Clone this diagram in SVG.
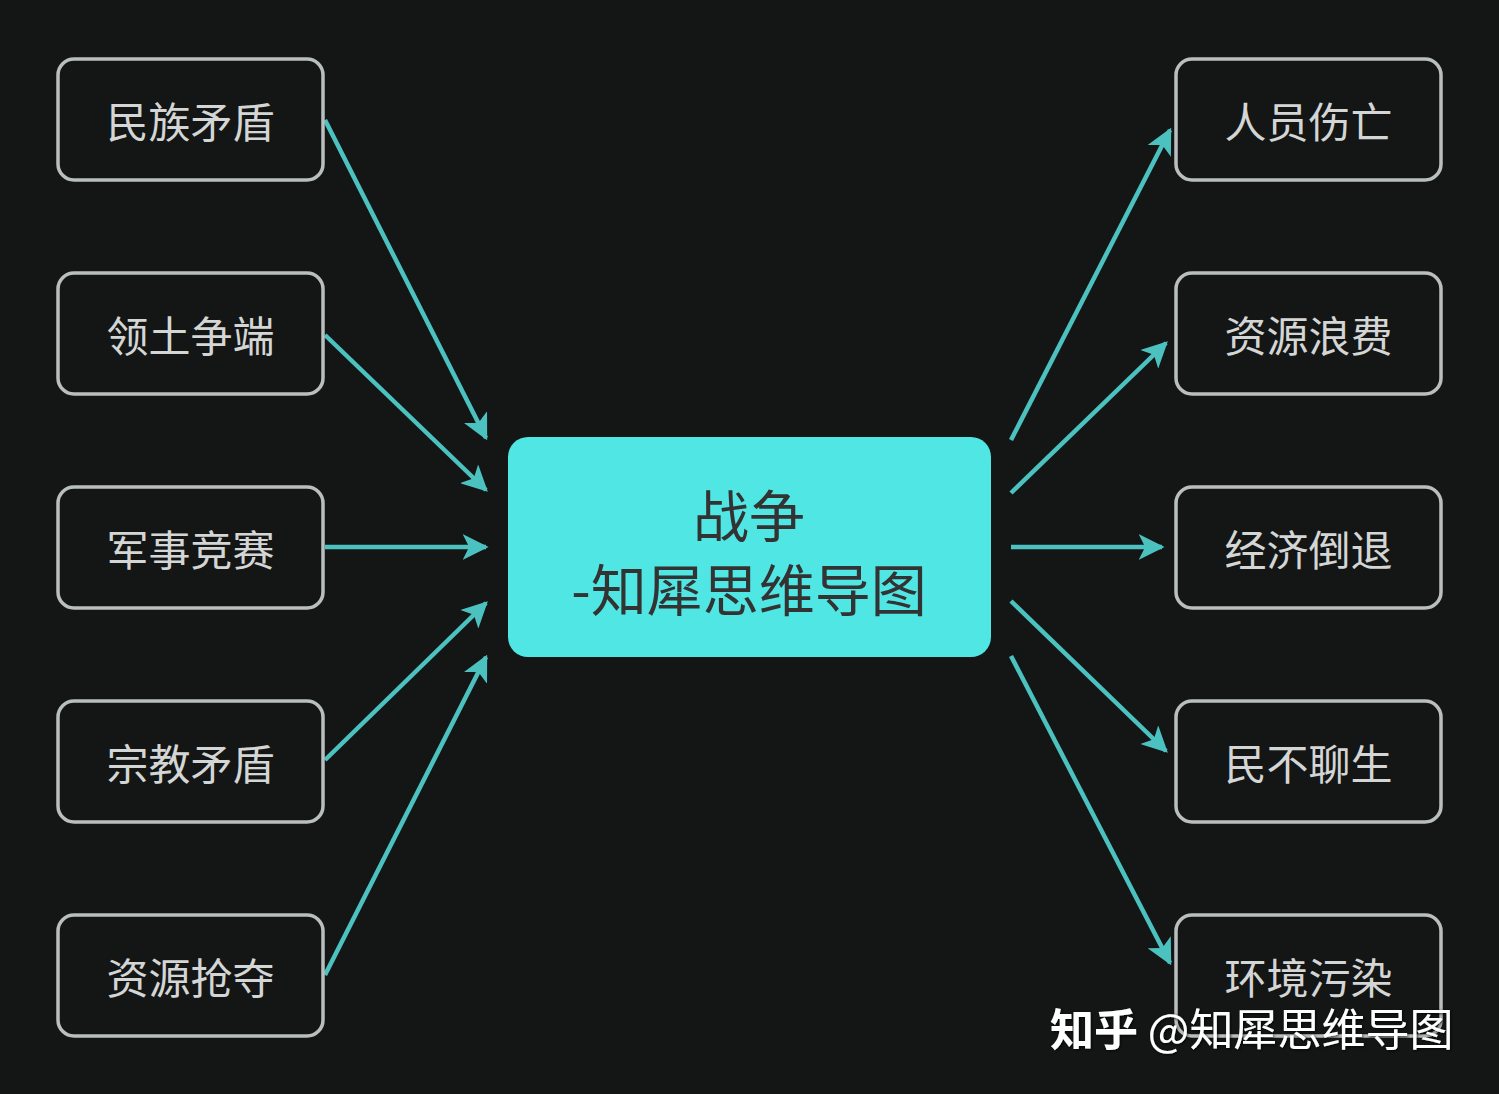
<svg xmlns="http://www.w3.org/2000/svg" width="1499" height="1094" viewBox="0 0 1499 1094">
<style>
.node rect{fill:#141616;stroke:#b9bebe;stroke-width:3.5}
.node text{font-family:"Noto Sans CJK SC","Noto Sans",sans-serif;font-size:42px;fill:#d4d6d6;text-anchor:middle;dominant-baseline:central}
.center rect{fill:#50e6e4}
.center text{font-family:"Noto Sans CJK SC","Noto Sans",sans-serif;font-size:56px;fill:#333333;text-anchor:middle;dominant-baseline:central}
.conn line{stroke:#4cc2c0;stroke-width:4.5;fill:none}
.wm{font-family:"Noto Sans CJK SC",sans-serif;font-size:44px;fill:#ffffff}
</style>
<defs>
<marker id="arr" markerUnits="userSpaceOnUse" markerWidth="26" markerHeight="26" viewBox="0 0 10 10" refX="9" refY="5" orient="auto">
<path d="M0,0 L10,5 L0,10 L2.5,5 z" fill="#4cc2c0"/>
</marker>
<filter id="sh" x="-10%" y="-20%" width="120%" height="140%">
<feDropShadow dx="1" dy="1" stdDeviation="1.5" flood-color="#000" flood-opacity="0.8"/>
</filter>
</defs>
<rect width="1499" height="1094" fill="#141616"/>
<g class="conn">
<line x1="325" y1="120" x2="486" y2="438" marker-end="url(#arr)"/>
<line x1="325" y1="335" x2="486" y2="490" marker-end="url(#arr)"/>
<line x1="325" y1="547" x2="486" y2="547" marker-end="url(#arr)"/>
<line x1="325" y1="760" x2="486" y2="603" marker-end="url(#arr)"/>
<line x1="325" y1="975" x2="486" y2="657" marker-end="url(#arr)"/>
<line x1="1011" y1="440" x2="1170" y2="130" marker-end="url(#arr)"/>
<line x1="1011" y1="493" x2="1166" y2="343" marker-end="url(#arr)"/>
<line x1="1011" y1="547" x2="1162" y2="547" marker-end="url(#arr)"/>
<line x1="1011" y1="601" x2="1166" y2="751" marker-end="url(#arr)"/>
<line x1="1011" y1="656" x2="1170" y2="963" marker-end="url(#arr)"/>
</g>
<g id="center" class="center">
<rect x="508" y="437" width="483" height="220" rx="20"/>
<text x="749" y="512">战争</text>
<text x="749" y="586">-知犀思维导图</text>
</g>
<g id="n1" class="node"><rect x="58" y="59" width="265" height="121" rx="16"/><text x="190.5" y="119">民族矛盾</text></g>
<g id="n2" class="node"><rect x="58" y="273" width="265" height="121" rx="16"/><text x="190.5" y="333">领土争端</text></g>
<g id="n3" class="node"><rect x="58" y="487" width="265" height="121" rx="16"/><text x="190.5" y="547">军事竞赛</text></g>
<g id="n4" class="node"><rect x="58" y="701" width="265" height="121" rx="16"/><text x="190.5" y="761">宗教矛盾</text></g>
<g id="n5" class="node"><rect x="58" y="915" width="265" height="121" rx="16"/><text x="190.5" y="975">资源抢夺</text></g>
<g id="n6" class="node"><rect x="1176" y="59" width="265" height="121" rx="16"/><text x="1308.5" y="119">人员伤亡</text></g>
<g id="n7" class="node"><rect x="1176" y="273" width="265" height="121" rx="16"/><text x="1308.5" y="333">资源浪费</text></g>
<g id="n8" class="node"><rect x="1176" y="487" width="265" height="121" rx="16"/><text x="1308.5" y="547">经济倒退</text></g>
<g id="n9" class="node"><rect x="1176" y="701" width="265" height="121" rx="16"/><text x="1308.5" y="761">民不聊生</text></g>
<g id="n10" class="node"><rect x="1176" y="915" width="265" height="121" rx="16"/><text x="1308.5" y="975">环境污染</text></g>
<text class="wm" x="1050" y="1046" filter="url(#sh)"><tspan font-weight="bold">知乎</tspan> @知犀思维导图</text>
</svg>
